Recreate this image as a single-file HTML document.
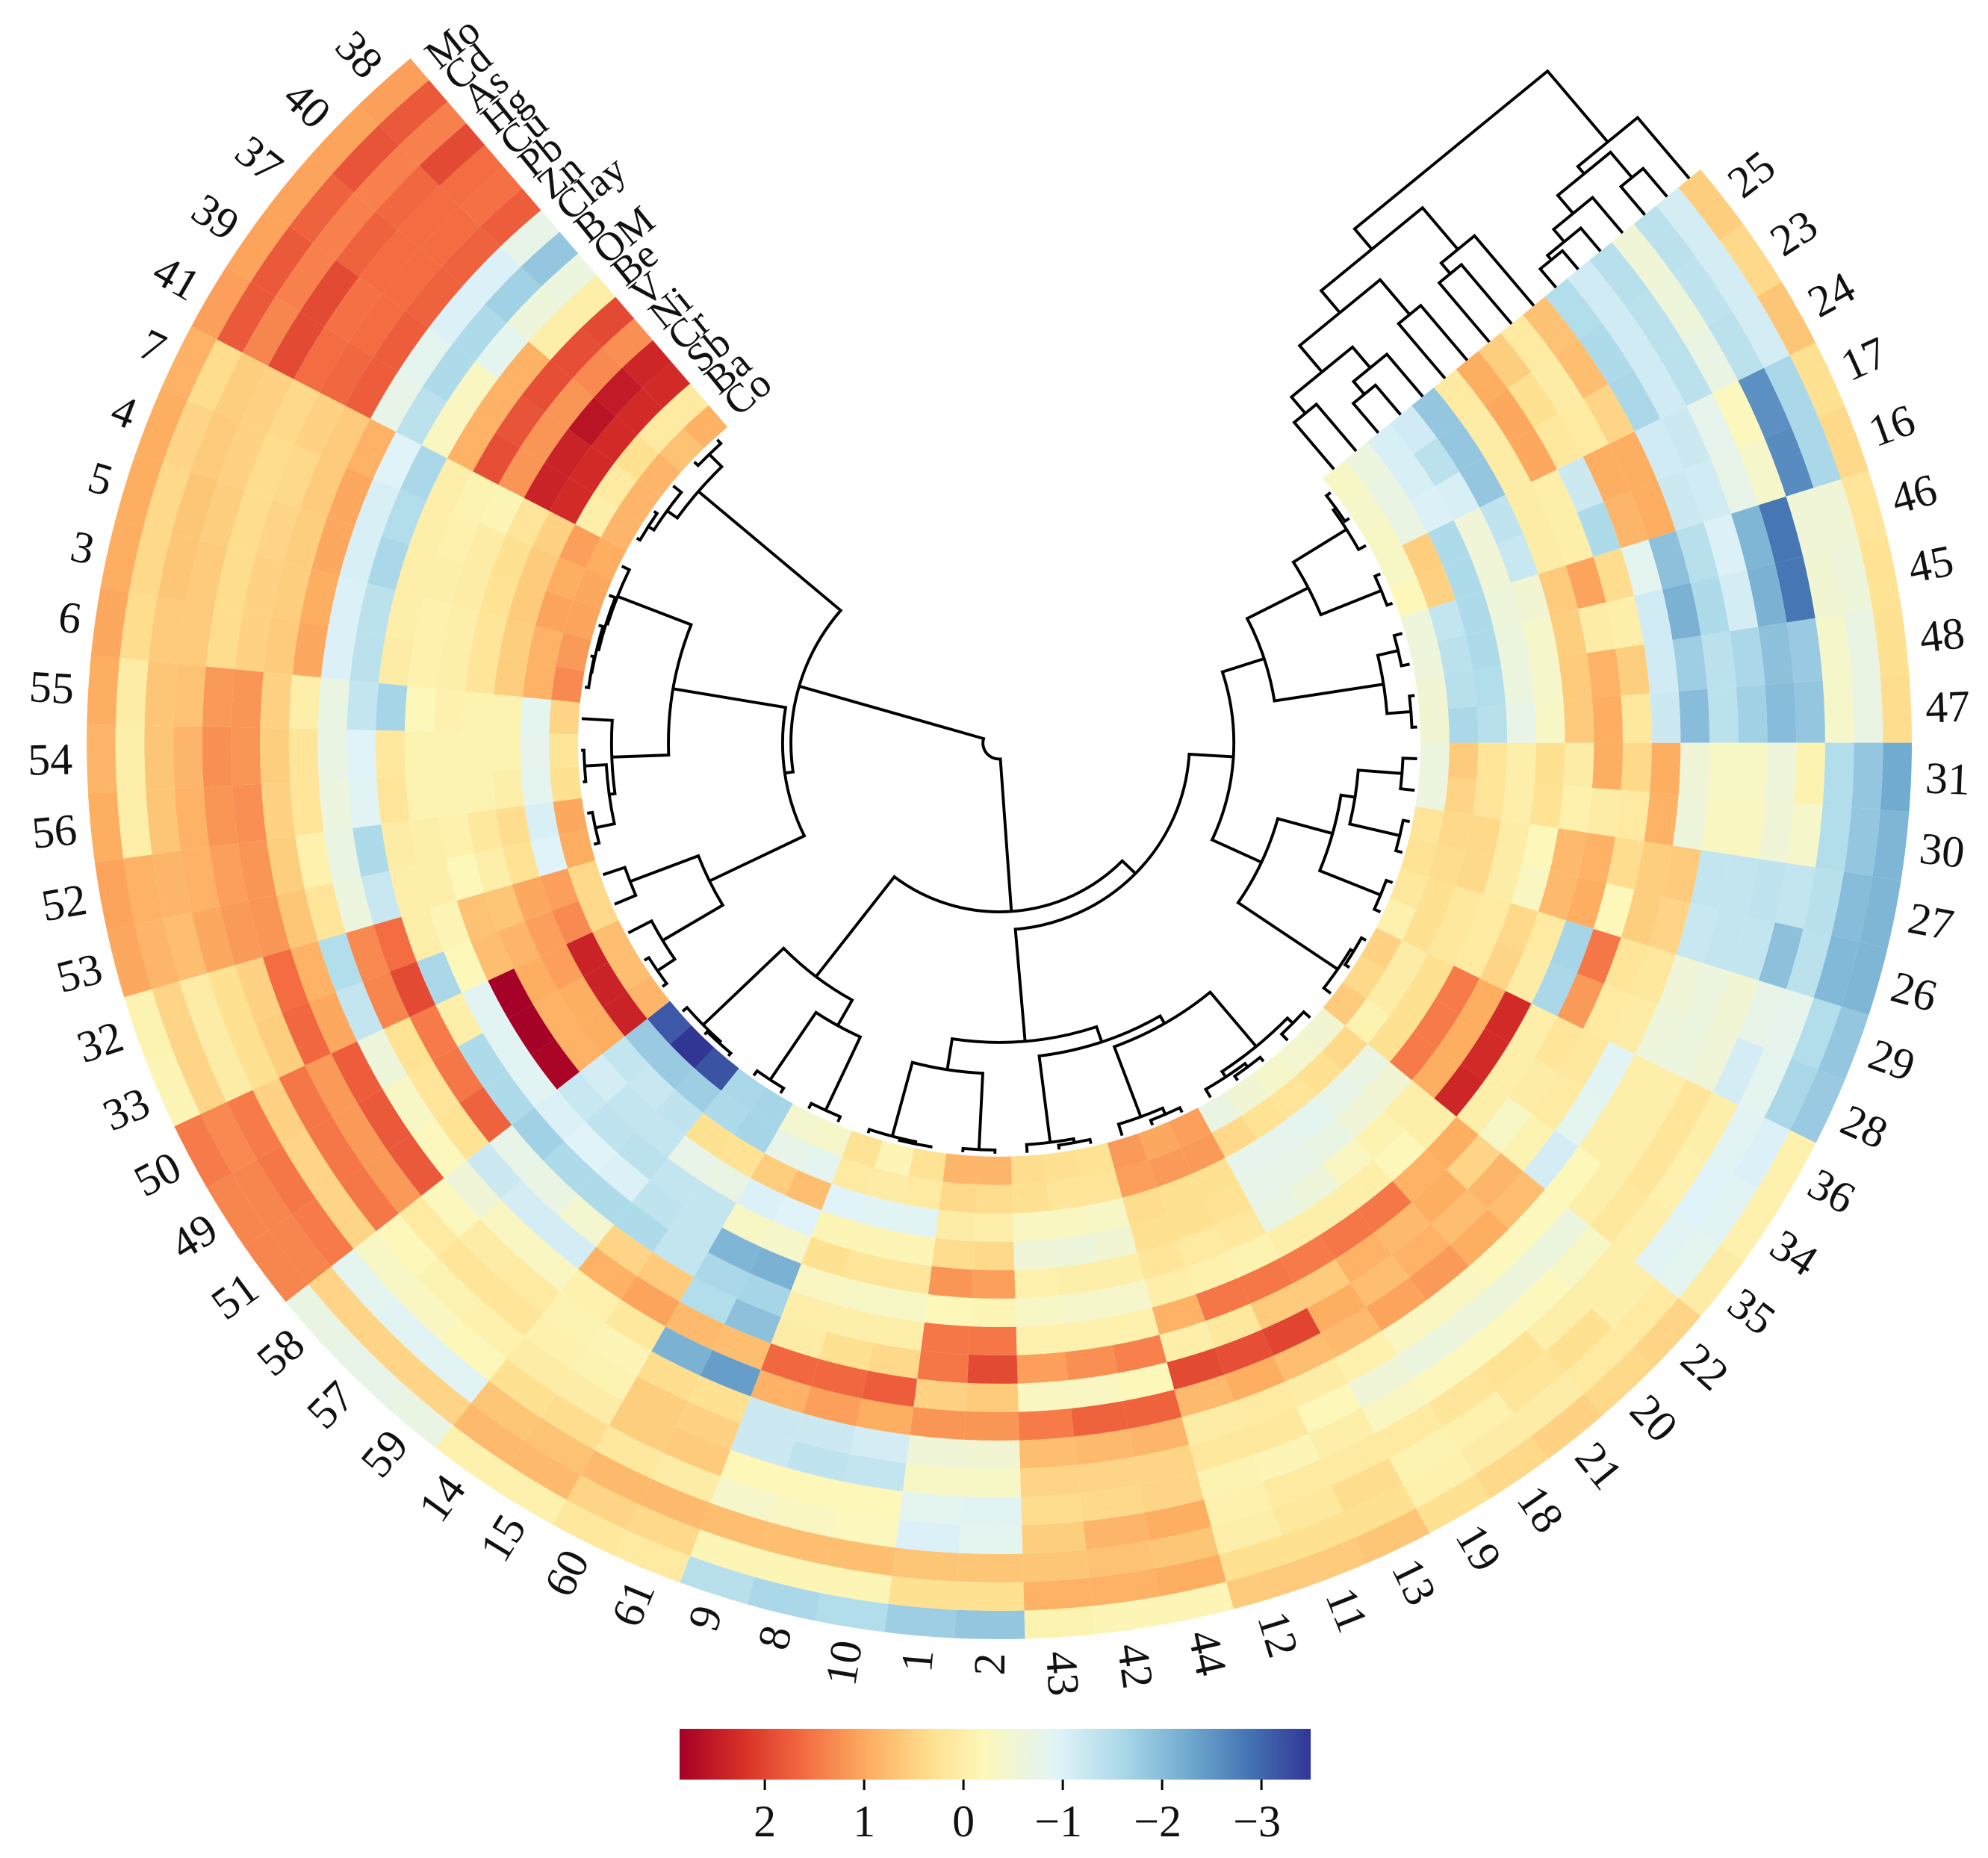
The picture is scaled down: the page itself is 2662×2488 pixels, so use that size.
<!DOCTYPE html>
<html lang="en">
<head>
<meta charset="utf-8">
<title>Circular clustered heatmap</title>
<style>
html,body{margin:0;padding:0;background:#fff;}
svg{display:block;}
text{font-family:"Liberation Serif",serif;fill:#111;}
</style>
</head>
<body>
<svg id="chart" xmlns="http://www.w3.org/2000/svg" width="2662" height="2488" viewBox="0 0 2662 2488">
<rect x="0" y="0" width="2662" height="2488" fill="#ffffff"/>
<defs>
<linearGradient id="cbar" x1="0" y1="0" x2="1" y2="0">
<stop offset="0" stop-color="#a50026"/><stop offset="0.1" stop-color="#d73027"/><stop offset="0.2" stop-color="#f46d43"/><stop offset="0.3" stop-color="#fdae61"/><stop offset="0.4" stop-color="#fee090"/><stop offset="0.48" stop-color="#fdf7b8"/><stop offset="0.6" stop-color="#e0f3f8"/><stop offset="0.7" stop-color="#abd9e9"/><stop offset="0.8" stop-color="#74add1"/><stop offset="0.9" stop-color="#4575b4"/><stop offset="1" stop-color="#313695"/>
</linearGradient>
</defs>
<g id="cells"></g>
<g id="sampleTreeLayer" fill="none" stroke="#000" stroke-width="3.9"></g>
<g id="columnTreeLayer" fill="none" stroke="#000" stroke-width="3.9"></g>
<g id="sampleLabelLayer"></g>
<g id="variableLabelLayer"></g>
<g id="colorbar"></g>
</svg>
<script>
const sampleLabels = [25,23,24,17,16,46,45,48,47,31,30,27,26,29,28,36,34,35,22,20,21,18,19,13,11,12,44,42,43,2,1,10,8,9,61,60,15,14,59,57,58,51,49,50,33,32,53,52,56,54,55,6,3,5,4,7,41,39,37,40,38];
const variableLabels = ["Mo","Cd","As","Hg","Cu","Pb","Zn","Clay","B","OM","Be","V","Ni","Cr","Sb","Ba","Co"];
const colorbarTicks = [2,1,0,-1,-2,-3];
const cellValues = [
[.55,-1.1,-1.4,-.55,-1.45,-1.15,-1.5,.7,.1,.55,.95,.1,-1.85,-1.15,-1.05,-.65,-.35],
[.4,-1.1,-1.35,-.6,-1.4,-1.15,-1.55,.75,.05,.3,1.0,.05,-1.85,-1.4,-1.05,-.7,-.4],
[.65,-1.1,-1.4,-.7,-1.4,-1.15,-1.6,.45,.1,.15,1.0,.05,-1.85,-1.05,-1.0,-.7,-.35],
[.3,-1.6,-2.55,-.25,-.8,-1.2,-1.15,.95,.95,-1.2,0,.05,-1.35,-.55,-1.55,.55,-.35],
[.4,-1.6,-2.6,-.4,-.75,-1.15,-1.2,.95,.85,-1.55,0,.05,-1.25,-.55,-1.55,.5,-.2],
[.2,-.55,-.55,-2.85,-2.1,-1.0,-1.45,-1.95,-.85,.35,1.05,.6,-.5,-.6,-1.55,-1.3,-.6],
[.25,-.6,-.5,-2.85,-2.15,-1.1,-1.55,-2.15,-1.15,0,.05,.55,-.4,-.65,-1.55,-1.4,-.6],
[.3,-.7,-.4,-1.8,-1.95,-1.6,-1.4,-1.75,-1.15,.55,.9,.6,-.4,-.65,-1.5,-1.45,-.5],
[.35,-.7,-.4,-1.85,-2.0,-1.7,-1.4,-2.0,-1.2,.15,.95,.6,-.35,-.75,-1.45,-1.6,-.5],
[-2.25,-1.85,-1.5,-.1,-.6,-.35,-.35,-.55,.95,.4,.95,.05,.3,0,.2,.6,-.65],
[-2.1,-1.85,-1.5,-.4,-.55,-.3,-.3,-.6,.9,.1,.05,-.05,.25,0,.2,.45,-.65],
[-2.1,-2.0,-1.45,-1.3,-1.35,-1.3,-1.3,.6,.55,.35,.9,.8,-.2,.05,.4,.4,.2],
[-2.1,-2.05,-1.4,-1.95,-1.3,-1.3,-1.25,.45,.55,-.2,.95,.8,-.3,.05,.4,.35,.25],
[-1.85,-1.5,-.8,-.75,-.5,-.65,-.55,.15,.2,1.5,-1.65,.1,.4,.1,.15,.3,.15],
[-1.8,-1.6,-.85,-1.1,-.55,-.65,-.6,.05,.1,1.15,-1.6,.05,.45,.1,.15,.3,-.05],
[-.05,-1.0,-.9,0,.2,0,0,-.9,.15,.2,0,2.3,.95,1.45,.3,.05,.5],
[-.05,-.9,-.95,-.05,.2,0,0,-.85,.1,.05,0,2.3,.95,1.45,.3,.05,.4],
[.05,-.85,-.9,0,.15,0,-.2,-1.1,-.1,-.35,0,2.35,.95,1.45,.3,-.1,.6],
[.45,.1,0,0,-.35,-.65,-.25,.75,.85,.45,.95,0,0,-.5,-.7,.4,-.5],
[.4,.1,.3,0,-.25,-.6,-.25,.95,.75,.95,.9,-.2,-.1,-.55,-.75,.3,-.45],
[.5,.05,.2,.25,-.25,-.6,-.3,1.15,.9,.8,1.5,0,-.3,-.7,-.85,.2,-.4],
[.4,.05,-.05,.2,-.25,-.65,-.3,1.05,.75,.9,1.5,0,-.6,-.75,-.8,.25,-.5],
[.3,-.05,-.1,.1,-.3,-.55,-.05,.8,.95,.6,1.45,0,-.7,-.75,-.8,.4,-.7],
[.65,.3,.35,.1,0,-.2,.05,.75,2.0,.6,1.5,-.1,.15,.25,.3,1.15,1.1],
[.6,.3,.15,.1,-.15,.15,.1,.95,1.9,.15,1.5,-.05,.1,.3,.3,1.15,1.0],
[.6,.3,0,-.05,-.1,.15,.05,.8,1.95,0,.9,0,.2,.3,.35,1.1,1.15],
[-.15,.95,.65,.95,.45,.45,.85,1.7,-.2,1.4,-.05,-.4,0,-.5,-.35,.2,.25],
[-.15,.9,.7,.85,.4,.45,.8,1.7,-.3,1.25,-.05,-.4,0,-.6,-.3,.2,.3],
[-.1,.9,.65,.55,.35,.45,.75,1.45,-.3,1.1,-.05,-.35,-.05,-.55,-.3,.3,.35],
[-1.85,.3,.65,-.85,-.9,-.35,-.5,1.2,.6,1.95,1.5,-.15,1.1,.4,0,.35,.85],
[-1.75,.3,.65,-1.0,-.85,-.35,-.55,1.2,.5,1.5,1.5,-.2,1.2,.35,.05,.4,.85],
[-1.5,-.15,.75,-.25,-.2,-1.3,-1.1,.95,1.75,.4,0,-.35,.2,-.15,-.9,.1,.25],
[-1.6,-.15,.75,-.3,-.2,-1.35,-1.2,1.1,1.65,.3,0,-.35,.2,-.15,-.9,.05,-.15],
[-1.45,-.15,.75,-.4,-.2,-1.2,-1.2,.9,1.65,.05,0,-.3,.3,-.15,-.95,.1,.25],
[.1,.4,.8,.05,.6,.5,.3,-2.4,.75,-1.95,-1.65,-2.15,-.4,-.95,.75,-.85,-.4],
[.15,.45,.8,.15,.55,.55,.35,-2.15,.8,-1.5,-1.6,-2.1,-.35,-1.0,.55,-.75,-.45],
[-.05,.8,.7,.35,.05,-.1,-.15,.15,1.05,.6,-1.3,-1.3,-1.3,-.7,.25,-1.65,-1.65],
[-.05,.8,.65,.3,.05,-.05,-.1,-.05,.9,.45,-1.55,-1.35,-1.3,-.75,.3,-1.55,-1.6],
[-.7,.45,-.9,-.2,-.05,.2,.1,-.3,-1.1,-.45,-1.55,-1.0,-1.4,-1.3,-1.35,-1.75,-3.2],
[-.75,.45,-.9,-.3,-.1,.2,.05,-.3,-1.1,-.7,-1.55,-.95,-1.35,-1.3,-1.25,-1.8,-3.5],
[-.7,.45,-.85,-.35,-.2,.1,-.25,-.55,-1.2,-.75,-1.7,-1.0,-1.25,-1.1,-1.3,-1.8,-3.15],
[1.35,1.35,1.45,.45,1.5,1.15,1.8,-.25,.25,1.7,-1.55,-.9,2.8,.9,.95,2.4,.85],
[1.35,1.35,1.5,.45,1.5,1.15,1.8,-.35,.2,1.5,-1.55,-.9,2.85,.9,.95,2.4,.75],
[1.45,1.3,1.45,.5,1.5,1.15,1.75,-.6,.25,1.45,0,-.9,2.85,.95,1.1,2.4,.75],
[-.15,.45,.05,.3,.55,1.65,1.0,-1.3,1.35,1.95,-1.6,-.2,.75,.85,1.1,1.3,.4],
[-.1,.45,.05,.3,.5,1.6,.9,-1.5,1.3,1.6,0,-.15,.7,.65,1.0,1.1,.4],
[1.0,.85,.75,1.0,1.15,1.2,.65,.2,-.65,-1.25,0,0,-.2,0,.25,-.95,.95],
[1.05,.9,.85,.9,1.1,1.2,.55,-.05,-.7,-1.55,.05,0,-.05,.15,.35,-1.05,1.0],
[.95,0,.65,.9,1.2,1.25,.5,.2,-.65,-.9,.2,-.1,-.1,-.1,0,-.85,.3],
[.85,0,.65,.85,1.25,1.2,.55,.2,-.7,-.95,.15,-.1,-.1,-.1,-.1,-.8,.2],
[.95,.05,.65,.7,1.15,1.2,.5,0,-.7,-1.3,-1.65,-.2,-.05,-.1,-.1,-.85,.45],
[1.0,.35,.6,.6,.35,.5,.6,1.0,-1.0,-1.4,.05,-.05,0,.2,.55,.9,1.3],
[.95,.4,.65,.6,.35,.5,.55,.95,-1.0,-1.4,0,-.05,0,.2,.55,.9,1.15],
[.95,.4,.65,.55,.35,.45,.55,1.0,-1.05,-1.6,0,0,.05,.25,.6,1.05,1.05],
[.95,.45,.6,.5,.35,.4,.6,1.0,-1.05,-1.5,0,-.05,.05,.3,.6,.95,1.0],
[.9,.35,.55,.5,.4,.5,.6,.9,-.95,-1.6,0,-.1,-.15,.2,.5,1.1,.95],
[1.1,1.8,1.35,1.95,1.6,1.65,1.75,-.75,-1.4,-.3,.9,1.9,1.2,2.4,2.3,0,.85],
[1.05,1.8,1.4,1.95,1.55,1.6,1.75,-.85,-1.55,-.3,.9,1.85,1.2,2.4,2.3,.1,.85],
[1.05,1.7,1.4,1.7,1.6,1.6,1.7,-1.0,-1.55,-.85,.9,1.9,1.2,2.6,2.3,.3,.85],
[1.05,1.85,1.4,1.65,1.6,1.6,1.7,-1.0,-1.7,-.6,0,1.9,1.3,2.5,2.3,.1,.7],
[1.1,1.8,1.4,1.95,1.6,1.55,1.75,-.75,-1.85,-.65,0,1.95,1.25,2.35,2.3,.1,.9]
];
// Sample dendrogram: [childA, childB, mergeHeight]; numeric child = sample label.
const sampleTree = [
 [
  [[38,40,1.25],[37,[39,41,.9],2.5],5.5],
  [
   [[7,[4,[5,[3,6,.9],1.1],1.6],2.0],[55,[[54,56,.7],[52,53,1.25],5.9],7.3],20.9],
   [[32,33,5.5],[50,[49,51,1.25],6.25],23],
   48.2
  ],
  50.2
 ],
 [
  [[58,[57,59,.9],1.4],[[14,15,1.4],[60,61,1.4],21.1],28.2],
  [
   [
    [[[[25,23,1.25],24,2],[17,16,1.4],17],[[46,45,2],[48,47,1.25],7],33.4],
    [[[[31,30,3.4],[27,26,1.6],13.9],[29,28,1.6],17.3],[[36,34,1.25],35,2.1],30.9],
    43.9
   ],
   [
    [[9,[8,10,.35],.9],[1,2,.9],19.5],
    [[43,[42,44,1.05],2],[[12,[11,13,1.25],2.9],[[19,[18,21,1.25],2.3],[20,22,2.1],3.9],21.1],23.2],
    27.1
   ],
   54.5
  ],
  58.9
 ],
 96.1
];
// Variable dendrogram: [childA, childB, mergeHeight]; string child = variable label.
const variableTree = [
 ["Mo",[["Cd","As",21.4],["Hg",["Cu",["Pb","Zn",14.1],17.5],26.9],40.6],46.2],
 [["Clay",["B","OM",44.9],53],[["Be","V",41.5],[["Ni",["Cr","Sb",22.4],32.1],["Ba","Co",35.5],47.9],67.9],84.6],
 100
];

const NS = "http://www.w3.org/2000/svg";
const cx = 1338, cy = 995, ys = 0.982;
const rOuter = 1222, rInner = 564, startDeg = 39.8, stepDeg = 4.42;
const ringW = (rOuter - rInner) / variableLabels.length;
const vMax = 2.858, vMin = -3.496;
const stopPos = [0,.1,.2,.3,.4,.48,.6,.7,.8,.9,1];
const stops = [[165,0,38],[215,48,39],[244,109,67],[253,174,97],[254,224,144],[253,247,184],[224,243,248],[171,217,233],[116,173,209],[69,117,180],[49,54,149]];

function rad(d){ return d * Math.PI / 180; }
function px(r, a){ return cx + r * Math.cos(rad(a)); }
function py(r, a){ return cy - ys * r * Math.sin(rad(a)); }
function f(n){ return n.toFixed(2); }
function sectorEdge(i){ return startDeg - i * stepDeg; }
function sectorMid(i){ return startDeg - (i + 0.5) * stepDeg; }
function ringMid(k){ return rOuter - (k + 0.5) * ringW; }
function color(v){
  const t = Math.max(0, Math.min(1, (vMax - v) / (vMax - vMin)));
  let i = 0;
  while (i < 9 && t > stopPos[i + 1]) i++;
  const u = (t - stopPos[i]) / (stopPos[i + 1] - stopPos[i]);
  const c = [0,1,2].map(function(j){ return Math.round(stops[i][j] + (stops[i+1][j] - stops[i][j]) * u); });
  return "rgb(" + c.join(",") + ")";
}
function heightToRadius(h){ return 560 * (1 - h / 100); }
function heightToOffset(h){ return 2.34 * h; }
function cbarX(v){ return 910 + (vMax - v) * 133; }

// heatmap cells
const cellsG = document.getElementById("cells");
cellValues.forEach(function(row, i){
  const a1 = sectorEdge(i), a2 = sectorEdge(i + 1);
  row.forEach(function(v, k){
    const ro = rOuter - k * ringW, ri = ro - ringW;
    const el = document.createElementNS(NS, "path");
    el.setAttribute("d",
      "M" + f(px(ro,a1)) + " " + f(py(ro,a1)) +
      "A" + f(ro) + " " + f(ro*ys) + " 0 0 1 " + f(px(ro,a2)) + " " + f(py(ro,a2)) +
      "L" + f(px(ri,a2)) + " " + f(py(ri,a2)) +
      "A" + f(ri) + " " + f(ri*ys) + " 0 0 0 " + f(px(ri,a1)) + " " + f(py(ri,a1)) + "Z");
    el.setAttribute("fill", color(v));
    
    
    cellsG.appendChild(el);
  });
});

// sample dendrogram
const sTreeG = document.getElementById("sampleTreeLayer");
function drawSampleNode(node){
  if (typeof node === "number") {
    return { a: sectorMid(sampleLabels.indexOf(node)), r: heightToRadius(0) };
  }
  const A = drawSampleNode(node[0]), B = drawSampleNode(node[1]);
  const r = heightToRadius(node[2]);
  const hi = Math.max(A.a, B.a), lo = Math.min(A.a, B.a);
  const first = A.a >= B.a ? A : B, second = A.a >= B.a ? B : A;
  const el = document.createElementNS(NS, "path");
  el.setAttribute("d",
    "M" + f(px(first.r,hi)) + " " + f(py(first.r,hi)) +
    "L" + f(px(r,hi)) + " " + f(py(r,hi)) +
    "A" + f(r) + " " + f(r*ys) + " 0 " + (hi - lo > 180 ? 1 : 0) + " 1 " + f(px(r,lo)) + " " + f(py(r,lo)) +
    "L" + f(px(second.r,lo)) + " " + f(py(second.r,lo)));
  
  
  sTreeG.appendChild(el);
  return { a: (A.a + B.a) / 2, r: r };
}
drawSampleNode(sampleTree);

// variable dendrogram
const cTreeG = document.getElementById("columnTreeLayer");
const thetaC = rad(startDeg);
function tx(r, d){ return cx + r * Math.cos(thetaC) - d * Math.sin(thetaC); }
function ty(r, d){ return cy - ys * (r * Math.sin(thetaC) + d * Math.cos(thetaC)); }
function drawVariableNode(node){
  if (typeof node === "string") {
    return { r: ringMid(variableLabels.indexOf(node)), d: 0 };
  }
  const A = drawVariableNode(node[0]), B = drawVariableNode(node[1]);
  const d = heightToOffset(node[2]);
  const el = document.createElementNS(NS, "path");
  el.setAttribute("d",
    "M" + f(tx(A.r,A.d)) + " " + f(ty(A.r,A.d)) +
    "L" + f(tx(A.r,d)) + " " + f(ty(A.r,d)) +
    "L" + f(tx(B.r,d)) + " " + f(ty(B.r,d)) +
    "L" + f(tx(B.r,B.d)) + " " + f(ty(B.r,B.d)));
  
  
  cTreeG.appendChild(el);
  return { r: (A.r + B.r) / 2, d: d };
}
drawVariableNode(variableTree);

// sample labels
const sLabG = document.getElementById("sampleLabelLayer");
sampleLabels.forEach(function(lab, i){
  const a = sectorMid(i), r = rOuter + 19;
  const x = px(r,a), y = py(r,a);
  const left = Math.cos(rad(a)) < 0;
  const el = document.createElementNS(NS, "text");
  el.textContent = String(lab);
  el.setAttribute("x", f(x));
  el.setAttribute("y", f(y));
  el.setAttribute("font-size", "60");
  el.setAttribute("dominant-baseline", "central");
  el.setAttribute("text-anchor", left ? "end" : "start");
  el.setAttribute("transform", "rotate(" + f(left ? 180 - a : -a) + " " + f(x) + " " + f(y) + ")");
  
  
  sLabG.appendChild(el);
});

// variable labels
const vLabG = document.getElementById("variableLabelLayer");
const endAngle = sectorEdge(sampleLabels.length);
variableLabels.forEach(function(lab, k){
  const r = ringMid(k);
  const x = px(r,endAngle) + 19 * Math.cos(rad(40));
  const y = py(r,endAngle) - 19 * Math.sin(rad(40));
  const el = document.createElementNS(NS, "text");
  el.textContent = lab;
  el.setAttribute("x", f(x));
  el.setAttribute("y", f(y));
  el.setAttribute("font-size", "54");
  el.setAttribute("dominant-baseline", "central");
  el.setAttribute("text-anchor", "start");
  el.setAttribute("transform", "rotate(-39 " + f(x) + " " + f(y) + ")");
  
  
  vLabG.appendChild(el);
});

// colorbar
const cbG = document.getElementById("colorbar");
const bar = document.createElementNS(NS, "rect");
bar.setAttribute("x", f(cbarX(vMax)));
bar.setAttribute("y", "2315");
bar.setAttribute("width", f(cbarX(vMin) - cbarX(vMax)));
bar.setAttribute("height", "68");
bar.setAttribute("fill", "url(#cbar)");


cbG.appendChild(bar);
colorbarTicks.forEach(function(v){
  const x = cbarX(v);
  const tick = document.createElementNS(NS, "line");
  tick.setAttribute("x1", f(x));
  tick.setAttribute("x2", f(x));
  tick.setAttribute("y1", "2383");
  tick.setAttribute("y2", "2397");
  tick.setAttribute("stroke", "#000");
  tick.setAttribute("stroke-width", "3");
  
  
  cbG.appendChild(tick);
  const t = document.createElementNS(NS, "text");
  t.textContent = v < 0 ? "\u2212" + Math.abs(v) : String(v);
  t.setAttribute("x", f(v < 0 ? x - 6 : x));
  t.setAttribute("y", "2459");
  t.setAttribute("font-size", "60");
  t.setAttribute("text-anchor", "middle");
  
  
  cbG.appendChild(t);
});
</script>
</body>
</html>
